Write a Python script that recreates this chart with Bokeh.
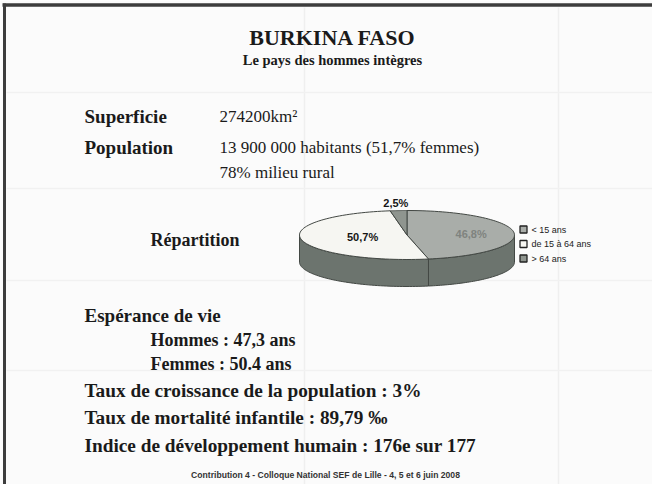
import numpy as np
from bokeh.plotting import figure
from bokeh.models import Range1d
from bokeh.core.properties import value
from bokeh.embed import file_html
from bokeh.resources import INLINE

# ---------------- data ----------------
age_groups = ["< 15 ans", "de 15 à 64 ans", "> 64 ans"]
age_shares = [46.8, 50.7, 2.5]
share_labels = ["46,8%", "50,7%", "2,5%"]

title_text = "BURKINA FASO"
subtitle_text = "Le pays des hommes intègres"
fact_names = ["Superficie", "Population"]
fact_values = ["274200km²", "13 900 000 habitants (51,7% femmes)", "78% milieu rural"]
pie_caption = "Répartition"
life_header = "Espérance de vie"
life_lines = ["Hommes : 47,3 ans", "Femmes : 50.4 ans"]
indicators = [
    "Taux de croissance de la population : 3%",
    "Taux de mortalité infantile : 89,79 ‰",
    "Indice de développement humain : 176e sur 177",
]
footer_text = "Contribution 4 - Colloque National SEF de Lille - 4, 5 et 6 juin 2008"

# ---------------- styles / layout ----------------
W, H = 652, 484
SERIF = value("Liberation Serif")
SANS = value("Liberation Sans")
INK = "#1a1a1a"
top_colors = ["#a9ada9", "#f6f6f2", "#8f958f"]
side_color = "#6c746e"
edge_color = "#434844"
label_colors = ["#7f837f", "#151515", "#151515"]
label_radius = [0.6, 0.42, 1.32]

p = figure(width=W, height=H, output_backend="svg", toolbar_location=None,
           x_range=Range1d(8, 8 + W), y_range=Range1d(8 + H, 8),
           min_border=0, background_fill_color="#fbfbfb",
           border_fill_color="#fbfbfb")
p.axis.visible = False
p.grid.visible = False
p.outline_line_color = None

# faint background rules of the scanned slide
p.segment(x0=[312, 566], y0=[15, 15], x1=[312, 566], y1=[8 + H, 8 + H],
          line_color="#efefef", line_width=1.5)
p.segment(x0=[14, 14, 14, 14], y0=[100, 196, 288, 378], x1=[8 + W] * 4,
          y1=[100, 196, 288, 378], line_color="#f1f1f1", line_width=1.5)

# slide frame
p.line([10, 8 + W], [12.5, 12.5], line_width=3.5, line_color="#3d3d3d")
p.line([12, 12], [11, 8 + H], line_width=3, line_color="#3d3d3d")

def txt(x, y, s, size, font=SERIF, style="bold", color=INK, align="left"):
    p.text(x=x, y=y, text=s, text_font=font, text_font_style=style,
           text_font_size=size, text_color=color, text_align=align,
           text_baseline="middle")

# titles
txt([340], [45], [title_text], "22px", align="center")
txt([340], [67], [subtitle_text], "14.5px", align="center")

# facts
txt([92, 92], [124, 155], fact_names, "19px")
txt([227, 227, 227], [124, 155, 180], fact_values, "17px", style="normal")
txt([158], [247], [pie_caption], "18px")

# life expectancy and indicators
txt([92], [323], [life_header], "19px")
txt([158, 158], [347, 371], life_lines, "18px")
txt([92, 92, 92], [398, 425, 453], indicators, "19.3px")
txt([333], [482], [footer_text], "8.6px", font=SANS, color="#333333", align="center")

# ---------------- 3D pie ----------------
cx, cy, rx, ry, depth = 414.5, 242.5, 107.5, 24.5, 27.0

def ell(t):
    r = np.radians(t)
    return cx + rx * np.cos(r), cy - ry * np.sin(r)

bounds = []
start = 90.0
for s in age_shares:
    end = start - s * 3.6
    bounds.append((start, end))
    start = end

# sides (front half only)
side_xs, side_ys = [], []
for t0, t1 in bounds:
    for k in range(-2, 2):
        lo = max(t1, 180 + 360 * k)
        hi = min(t0, 360 + 360 * k)
        if hi > lo:
            ts = np.linspace(hi, lo, 60)
            xt, yt = ell(ts)
            side_xs.append(list(xt) + list(xt[::-1]))
            side_ys.append(list(yt) + list((yt + depth)[::-1]))
p.patches(side_xs, side_ys, fill_color=side_color, line_color=edge_color, line_width=1)

# top faces
top_xs, top_ys = [], []
for t0, t1 in bounds:
    ts = np.linspace(t0, t1, 80)
    xt, yt = ell(ts)
    top_xs.append([cx] + list(xt))
    top_ys.append([cy] + list(yt))
p.patches(top_xs, top_ys, fill_color=top_colors, line_color=edge_color, line_width=1)

# slice labels
lx, ly = [], []
for (t0, t1), rf in zip(bounds, label_radius):
    m = np.radians((t0 + t1) / 2)
    lx.append(cx + rf * rx * np.cos(m))
    ly.append(cy - rf * ry * np.sin(m))
p.text(x=lx, y=ly, text=share_labels, text_font=SANS, text_font_style="bold",
       text_font_size="11px", text_color=label_colors, text_align="center",
       text_baseline="middle")

# legend
leg_y = [237 + 14.5 * i for i in range(len(age_groups))]
p.rect(x=[531] * 3, y=leg_y, width=7, height=7, width_units="screen",
       height_units="screen", fill_color=top_colors, line_color="#222222", line_width=1.3)
p.text(x=[539] * 3, y=leg_y, text=age_groups, text_font=SANS, text_font_size="9px",
       text_color="#222222", text_baseline="middle", text_align="left")

open("out.html", "w").write(file_html(p, INLINE))
